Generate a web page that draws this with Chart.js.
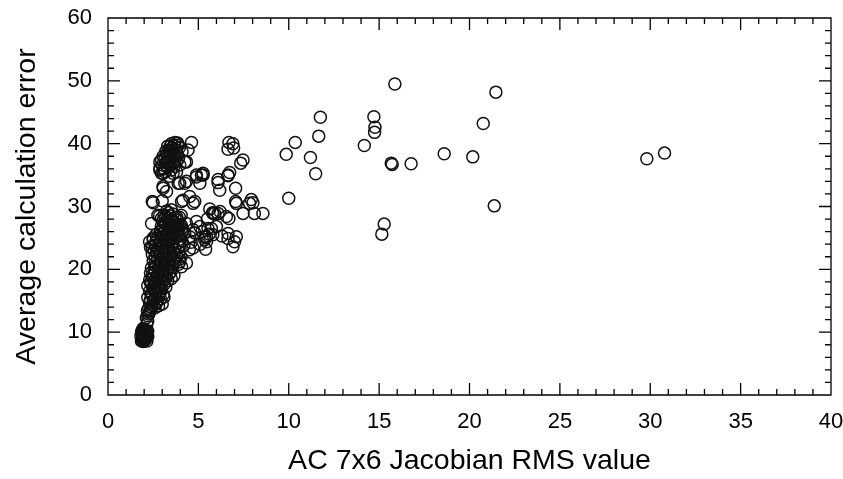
<!DOCTYPE html>
<html>
<head>
<meta charset="utf-8">
<script src="https://cdn.jsdelivr.net/npm/chart.js@4/dist/chart.umd.min.js"></script>
<style>
  html, body { margin: 0; padding: 0; background: #fff; }
  #wrap { width: 843px; height: 479px; }
</style>
</head>
<body>
<div id="wrap"><canvas id="c" width="843" height="479"></canvas></div>
<script>
// ---- data (x = AC 7x6 Jacobian RMS value, y = average calculation error) ----
const lowCluster = [
  [1.85,8.6],[1.95,8.5],[2.05,8.7],[2.15,8.6],[1.9,9.0],[2.0,9.1],[2.12,9.2],[1.82,9.4],
  [1.95,9.5],[2.08,9.6],[2.2,9.3],[1.85,9.9],[2.0,10.0],[2.15,10.1],[1.9,10.3],[2.05,10.4],
  [1.95,10.6],[2.2,10.2],[2.0,8.9],[1.88,10.1],[2.15,11.3],[2.2,11.8],[2.12,12.3],[2.25,12.9],[2.18,13.4],
  [1.9,8.8],[2.1,8.9],[1.95,9.3],[2.05,9.4],[1.9,9.7],[2.1,9.8],[2.0,10.2],[1.92,8.7],[2.08,10.0],[2.02,9.6]
];
const mainColumn = [
  [2.25,13.8],[2.4,14.0],[2.6,13.9],[2.8,14.2],[3.0,14.5],[2.3,14.7],[2.5,15.0],[2.7,14.8],
  [2.9,15.3],[3.1,15.6],[2.2,15.5],[2.45,15.9],[2.65,16.1],[2.85,16.3],[3.05,16.0],[2.3,16.5],
  [2.55,16.8],[2.75,17.0],[2.95,16.9],[3.2,17.2],[2.2,17.4],[2.4,17.6],[2.6,17.8],[2.8,17.5],
  [3.0,18.0],[3.3,18.2],[3.5,18.5],[2.3,18.3],[2.5,18.6],[2.7,18.9],[2.9,18.7],[3.15,19.0],
  [3.4,19.3],[3.65,19.0],[2.35,19.4],[2.6,19.7],[2.85,19.9],[3.05,19.6],[3.3,20.0],[3.55,20.3],
  [2.4,20.2],[2.65,20.5],[2.9,20.8],[3.15,20.6],[3.4,21.0],[3.7,21.2],[3.9,20.8],[2.5,21.3],
  [2.75,21.6],[3.0,21.9],[3.25,21.7],[3.5,22.1],[3.8,22.3],[4.05,22.0],[2.45,22.4],[2.7,22.7],
  [2.95,22.9],[3.2,23.0],[3.45,22.8],[3.7,23.2],[2.35,23.5],[2.6,23.8],[2.85,24.0],[3.1,24.2],
  [3.35,23.9],[3.6,24.4],[3.85,24.1],[4.1,24.5],[2.5,24.7],[2.75,25.0],[3.0,25.2],[3.25,25.4],
  [3.5,25.1],[3.75,25.6],[4.0,25.3],[4.25,25.8],[2.9,26.0],[3.15,26.2],[3.4,26.4],[3.65,26.1],
  [3.9,26.6],[4.15,26.3],[2.95,26.9],[3.2,27.2],[3.45,27.0],[3.7,27.4],[3.95,27.1],[3.05,27.8],
  [3.3,28.1],[3.55,27.9],[3.8,28.3],[2.85,28.5],[3.1,28.7],[3.35,29.0],[3.6,28.8],[4.05,28.6]
];
const denseCore = [
  [2.2,12.6],[2.3,13.2],[2.35,13.5],[2.5,14.3],[2.65,14.5],[2.35,15.2],[2.6,15.4],[2.8,15.7],
  [2.4,16.2],[2.7,16.5],[2.95,16.6],[2.5,17.2],[2.9,17.3],[3.1,17.6],[2.35,17.9],[2.75,18.2],
  [3.2,18.5],[2.55,18.1],[2.45,19.0],[2.8,19.3],[3.0,19.1],[3.25,19.5],[3.5,19.7],[2.55,20.0],
  [2.8,20.3],[3.05,20.4],[3.3,20.6],[3.6,20.7],[2.6,21.0],[2.9,21.2],[3.15,21.4],[3.6,21.6],
  [3.95,21.6],[2.6,22.1],[2.85,22.3],[3.1,22.5],[3.35,22.4],[3.65,22.6],[3.95,22.8],[2.55,23.0],
  [2.8,23.3],[3.05,23.6],[3.3,23.5],[3.55,23.7],[3.95,23.6],[4.2,23.8],[2.65,24.4],[2.95,24.6],
  [3.2,24.7],[3.45,24.6],[3.7,24.9],[3.95,24.8],[2.65,25.5],[2.9,25.6],[3.1,25.8],[3.35,25.9],
  [3.6,25.5],[3.85,25.9],[4.1,25.9],[3.05,26.6],[3.3,26.7],[3.55,26.8],[3.8,26.9],[4.05,27.0],
  [3.1,27.4],[3.35,27.6],[3.6,27.6],[3.85,27.8],[2.95,28.1],[3.2,28.4],[3.45,28.5],[3.7,28.2],
  [3.95,28.3],[3.25,29.3],[3.5,29.5]
];
const upperCluster = [
  [3.1,36.0],[3.3,36.3],[3.5,35.8],[3.2,37.0],[3.4,37.3],[3.6,36.9],[3.8,37.2],[3.05,38.0],
  [3.25,38.3],[3.45,38.0],[3.65,38.4],[3.85,38.1],[3.35,39.0],[3.55,39.3],[3.75,39.0],[3.95,39.4],
  [3.5,40.0],[3.7,40.2],[3.9,39.8],[3.3,39.6],[3.15,37.6],[3.0,36.6],[4.1,38.7],[3.6,35.3],[3.4,34.8],
  [2.96,35.3],[3.05,33.2],[3.24,32.4],[3.05,32.9],[2.87,35.8],[2.96,37.4],[2.87,37.1],[2.87,36.1],
  [3.05,35.3],[2.45,30.8],[3.0,30.9],[2.5,30.6],[2.41,27.3],[2.76,28.6],[2.3,24.4],[2.5,25.0],[2.45,23.5],
  [3.2,38.8],[3.4,38.6],[3.6,38.9],[3.8,38.6],[3.45,39.6],[3.65,39.7],[3.85,40.1],[3.3,37.8],
  [3.5,37.6],[3.7,37.8],[3.9,37.6],[3.2,36.6],[3.45,36.5],[3.65,36.4],[3.15,35.5]
];
const band = [
  [4.07,20.4],[3.97,21.2],[4.34,21.0],[4.5,23.1],[4.7,23.4],[4.6,24.3],[4.52,25.2],[4.71,26.3],
  [4.34,27.3],[4.89,27.6],[4.8,25.8],[5.08,26.8],[5.45,25.2],[5.35,24.7],[5.72,26.5],[5.9,28.9],
  [6.09,28.9],[6.55,28.4],[6.64,25.7],[7.1,25.2],[6.91,23.6],[7.0,24.4],[7.47,28.9],[8.1,28.9],
  [8.57,28.9],[7.83,30.5],[7.1,30.5],[5.53,26.5],[5.35,25.2],[5.8,25.5],[6.64,24.9],[5.45,24.4],
  [5.1,24.0],[5.4,23.2],[6.3,25.3],[5.2,26.0],[5.6,25.6],[6.0,26.8],[5.5,28.0],[6.69,28.1],
  [5.78,29.0],[8.02,30.6],[7.93,31.1],[7.06,32.9],[7.06,30.8],[6.18,32.6],[6.09,33.8],[6.09,34.3],
  [6.64,34.9],[6.73,35.4],[5.26,35.3],[5.26,35.0],[4.89,35.0],[5.17,35.0],[4.89,34.7],[5.08,33.7],
  [4.71,30.5],[4.8,30.8],[4.52,31.6],[4.07,30.8],[4.15,31.0],[3.97,33.7],[4.34,34.0],[4.25,33.7],
  [3.88,33.7],[6.64,35.0],[7.47,37.4],[7.34,36.9],[6.69,40.2],[6.91,40.0],[6.64,39.1],[6.95,39.3],
  [4.62,40.2],[4.43,39.0],[4.34,37.1],[4.25,37.1],[3.97,36.6],[3.79,35.5],[5.81,28.9],[5.63,29.6],[6.2,29.2]
];
const outliers = [
  [9.86,38.3],[10.36,40.2],[11.2,37.8],[11.49,35.2],[11.66,41.2],[11.75,44.2],[10.0,31.3],
  [14.18,39.7],[14.71,44.3],[14.77,42.6],[14.75,41.8],[15.87,49.5],[15.67,36.9],[15.72,36.7],
  [16.77,36.8],[18.6,38.4],[20.18,37.9],[20.76,43.2],[21.46,48.2],[15.28,27.2],[15.15,25.6],
  [21.37,30.1],[29.81,37.6],[30.79,38.5]
];

const xMajorTicks = [0, 5, 10, 15, 20, 25, 30, 35, 40];
const yMajorTicks = [0, 10, 20, 30, 40, 50, 60];
const xMinorTicks = [1,2,3,4,6,7,8,9,11,12,13,14,16,17,18,19,21,22,23,24,26,27,28,29,31,32,33,34,36,37,38,39];
const yMinorTicks = [2,4,6,8,12,14,16,18,22,24,26,28,32,34,36,38,42,44,46,48,52,54,56,58];
const xTitle = 'AC 7x6 Jacobian RMS value';
const yTitle = 'Average calculation error';

const allPoints = [].concat(lowCluster, mainColumn, denseCore, upperCluster, band, outliers).map(p => ({x: p[0], y: p[1]}));

const FONT = "'Liberation Sans', Arial, Helvetica, sans-serif";

const frameTicks = {
  id: 'frameTicks',
  afterDatasetsDraw(chart) {
    const {ctx, chartArea: {left, right, top, bottom}, scales: {x, y}} = chart;
    ctx.save();
    ctx.strokeStyle = '#000';
    ctx.lineWidth = 1.3;
    ctx.beginPath();
    ctx.rect(left, top, right - left, bottom - top);
    const xt = (v, len) => {
      const px = x.getPixelForValue(v);
      ctx.moveTo(px, bottom); ctx.lineTo(px, bottom - len);
      ctx.moveTo(px, top); ctx.lineTo(px, top + len);
    };
    const yt = (v, len) => {
      const py = y.getPixelForValue(v);
      ctx.moveTo(left, py); ctx.lineTo(left + len, py);
      ctx.moveTo(right, py); ctx.lineTo(right - len, py);
    };
    xMajorTicks.forEach(v => xt(v, 12));
    xMinorTicks.forEach(v => xt(v, 6));
    yMajorTicks.forEach(v => yt(v, 12));
    yMinorTicks.forEach(v => yt(v, 6));
    ctx.stroke();
    ctx.restore();
  }
};

new Chart(document.getElementById('c'), {
  type: 'scatter',
  data: {
    datasets: [{
      data: allPoints,
      pointStyle: 'circle',
      pointRadius: 6,
      pointBorderWidth: 1.5,
      borderColor: '#111',
      backgroundColor: 'rgba(0,0,0,0)',
      pointHoverRadius: 6
    }]
  },
  options: {
    responsive: false,
    animation: false,
    events: [],
    layout: { padding: { top: 18, right: 12, left: 0, bottom: 0 } },
    plugins: { legend: { display: false }, tooltip: { enabled: false } },
    scales: {
      x: {
        type: 'linear', min: 0, max: 40,
        afterBuildTicks: s => { s.ticks = xMajorTicks.map(v => ({value: v})); },
        afterFit: s => { s.height = 84; s.paddingLeft = 0; s.paddingRight = 0; },
        grid: { display: false, drawTicks: false },
        border: { display: false },
        ticks: { color: '#000', font: { family: FONT, size: 22 }, padding: 14, maxRotation: 0 },
        title: { display: true, text: xTitle, color: '#000', font: { family: FONT, size: 28.5 }, padding: { top: 0, bottom: 1 } }
      },
      y: {
        type: 'linear', min: 0, max: 60,
        afterBuildTicks: s => { s.ticks = yMajorTicks.map(v => ({value: v})); },
        afterFit: s => { s.width = 108; s.paddingTop = 0; s.paddingBottom = 0; },
        grid: { display: false, drawTicks: false },
        border: { display: false },
        ticks: { color: '#000', font: { family: FONT, size: 22 }, padding: 16 },
        title: { display: true, text: yTitle, color: '#000', font: { family: FONT, size: 28.5 }, padding: { top: 10, bottom: 0 } }
      }
    }
  },
  plugins: [frameTicks]
});
</script>
</body>
</html>
